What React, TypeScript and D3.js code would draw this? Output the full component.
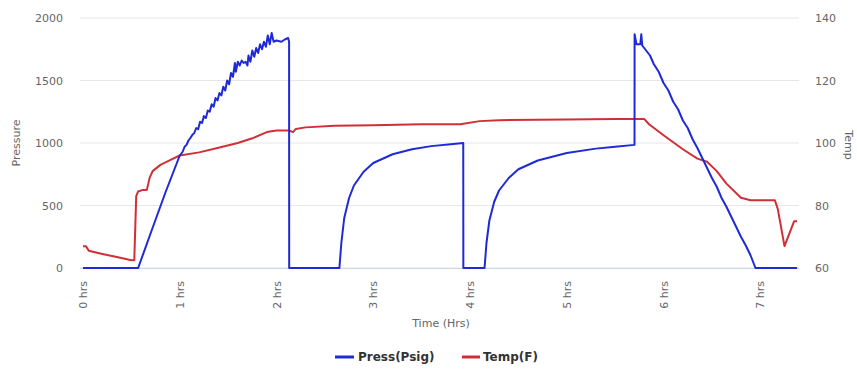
import React from "react";
import * as d3 from "d3";

const pressTime = [0, 0.57, 0.7, 0.85, 1.0, 1.03, 1.05, 1.07, 1.09, 1.11, 1.13, 1.15, 1.17, 1.19, 1.21, 1.23, 1.25, 1.27, 1.29, 1.31, 1.33, 1.35, 1.37, 1.39, 1.41, 1.43, 1.45, 1.47, 1.49, 1.51, 1.53, 1.55, 1.57, 1.58, 1.6, 1.62, 1.64, 1.66, 1.68, 1.7, 1.71, 1.73, 1.75, 1.77, 1.79, 1.81, 1.83, 1.85, 1.87, 1.89, 1.91, 1.93, 1.95, 1.97, 2.0, 2.05, 2.09, 2.12, 2.13, 2.131, 2.65, 2.67, 2.7, 2.75, 2.8, 2.9, 3.0, 3.2, 3.4, 3.6, 3.8, 3.93, 3.931, 4.15, 4.17, 4.2, 4.25, 4.3, 4.4, 4.5, 4.7, 5.0, 5.3, 5.5, 5.7, 5.701, 5.72, 5.76, 5.77, 5.78, 5.82, 5.86, 5.9, 5.95, 6.0, 6.05, 6.1, 6.15, 6.2, 6.25, 6.3, 6.35, 6.4, 6.45, 6.5, 6.55, 6.6, 6.65, 6.7, 6.75, 6.8, 6.85, 6.9, 6.95, 7.38];
const pressVal = [0, 0, 280, 600, 900, 930, 970, 985, 1020, 1040, 1065, 1080, 1120, 1110, 1170, 1160, 1215, 1200, 1260, 1250, 1310, 1290, 1360, 1340, 1400, 1380, 1450, 1420, 1500, 1470, 1560, 1530, 1640, 1570, 1650, 1620, 1660, 1640, 1650, 1620, 1700, 1650, 1740, 1690, 1760, 1720, 1790, 1750, 1810, 1770, 1860, 1790, 1880, 1810, 1820, 1810, 1830, 1840, 1810, 0, 0, 200, 400, 560, 660, 770, 840, 910, 950, 975, 990, 1000, 0, 0, 200, 380, 530, 620, 720, 790, 860, 920, 955, 970, 985, 1870, 1790, 1790, 1870, 1780, 1740, 1700, 1630, 1570, 1480, 1420, 1330, 1270, 1180, 1120, 1030, 960, 880, 800, 720, 650, 560, 490, 410, 330, 250, 180, 100, 0, 0];

const tempTime = [0, 0.03, 0.06, 0.2, 0.35, 0.5, 0.53, 0.55, 0.57, 0.62, 0.66, 0.69, 0.72, 0.8, 0.9, 1.0, 1.2, 1.4, 1.6, 1.75, 1.9, 2.0, 2.13, 2.17, 2.2, 2.3, 2.6, 3.0, 3.5, 3.9, 4.1, 4.3, 5.0, 5.5, 5.8, 5.85, 6.0, 6.2, 6.35, 6.45, 6.55, 6.65, 6.8, 6.9, 7.15, 7.18, 7.25, 7.3, 7.35, 7.38];
const tempVal = [67, 67, 65.5, 64.5, 63.5, 62.5, 62.5, 83, 84.5, 85, 85, 89, 91, 93, 94.5, 96, 97, 98.5, 100, 101.5, 103.5, 104, 104, 103.5, 104.5, 105, 105.5, 105.7, 106, 106, 107, 107.3, 107.5, 107.7, 107.7, 106, 102.5, 98, 95, 94, 91, 87, 82.5, 81.7, 81.7, 79, 67, 71, 75, 75];

const xTicks = [0, 1, 2, 3, 4, 5, 6, 7];
const xTickLabels = ["0 hrs", "1 hrs", "2 hrs", "3 hrs", "4 hrs", "5 hrs", "6 hrs", "7 hrs"];
const leftTicks = [0, 500, 1000, 1500, 2000];
const rightTicks = [60, 80, 100, 120, 140];

const W = 857, H = 372;
const FONT = "'DejaVu Sans', sans-serif";
const BLUE = "#1f2ad6";
const RED = "#d12f36";

export default function App() {
  const x = d3.scaleLinear().domain([0, 7.4]).range([83, 799]);
  const yL = d3.scaleLinear().domain([0, 2000]).range([268, 18]);
  const yR = d3.scaleLinear().domain([60, 140]).range([268, 18]);

  const pressData = pressTime.map((t, i) => [t, pressVal[i]] as [number, number]);
  const tempData = tempTime.map((t, i) => [t, tempVal[i]] as [number, number]);

  const pressLine = d3.line<[number, number]>().x(d => x(d[0])).y(d => yL(d[1]));
  const tempLine = d3.line<[number, number]>().x(d => x(d[0])).y(d => yR(d[1]));

  return (
    <svg width={W} height={H} style={{ position: "absolute", left: 0, top: 0 }} fontFamily={FONT}>
      <rect x={0} y={0} width={W} height={H} fill="#fff" />
      {leftTicks.map(t => (
        <line key={t} x1={80} x2={799} y1={yL(t)} y2={yL(t)} stroke="#e6e6e6" strokeWidth={1} />
      ))}
      <line x1={80} x2={799} y1={268.5} y2={268.5} stroke="#ccd6eb" strokeWidth={1} />
      {leftTicks.map(t => (
        <text key={t} x={63} y={yL(t) + 4} textAnchor="end" fontSize={11} fill="#666">{t}</text>
      ))}
      {rightTicks.map(t => (
        <text key={t} x={815} y={yR(t) + 4} textAnchor="start" fontSize={11} fill="#666">{t}</text>
      ))}
      {xTicks.map((t, i) => (
        <text key={t} transform={`translate(${x(t) + 4},281) rotate(-90)`} textAnchor="end" fontSize={11} fill="#666">{xTickLabels[i]}</text>
      ))}
      <text transform="translate(20,143) rotate(-90)" textAnchor="middle" fontSize={11} fill="#666">Pressure</text>
      <text transform="translate(845,145) rotate(90)" textAnchor="middle" fontSize={11} fill="#666">Temp</text>
      <text x={441} y={327} textAnchor="middle" fontSize={11} fill="#666">Time (Hrs)</text>

      <path d={tempLine(tempData) || ""} fill="none" stroke={RED} strokeWidth={2} strokeLinejoin="round" />
      <path d={pressLine(pressData) || ""} fill="none" stroke={BLUE} strokeWidth={2} strokeLinejoin="round" />

      <g>
        <line x1={335} x2={354} y1={357} y2={357} stroke={BLUE} strokeWidth={3} />
        <text x={358} y={361} fontSize={12} fontWeight="bold" fill="#333">Press(Psig)</text>
        <line x1={462} x2={480} y1={357} y2={357} stroke={RED} strokeWidth={3} />
        <text x={483} y={361} fontSize={12} fontWeight="bold" fill="#333">Temp(F)</text>
      </g>
    </svg>
  );
}
